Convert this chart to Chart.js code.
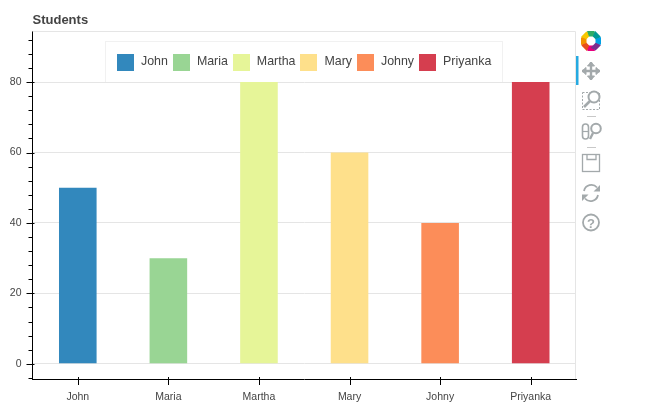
<!DOCTYPE html>
<html>
<head>
<meta charset="utf-8">
<script src="https://cdn.jsdelivr.net/npm/chart.js@4"></script>
<style>
  html, body { margin: 0; padding: 0; background: #fff; }
  #wrap { position: relative; width: 650px; height: 419px; overflow: hidden; }
  #legend {
    position: absolute; left: 105px; top: 41px; width: 398px; height: 41px; box-sizing: border-box;
    padding-left: 11px; display: flex; align-items: center;
    background: rgba(255,255,255,0.95); border: 1px solid rgba(229,229,229,0.55); border-bottom: 0;
    font: 12.4px "Liberation Sans", Arial, sans-serif; color: #444;
  }
  #legend .glyph { width: 17px; height: 17px; margin-right: 7px; flex: none; }
  #legend .name { margin-right: 5px; white-space: nowrap; position: relative; top: -1px; }
  #tools { position: absolute; left: 576px; top: 0; width: 40px; height: 260px; }
</style>
</head>
<body>
<div id="wrap">
  <canvas id="myChart" width="650" height="419"></canvas>
  <div id="legend"></div>
  <svg id="tools" width="40" height="260" viewBox="0 0 40 260">
    <rect x="0" y="56" width="2.5" height="29" fill="#26aae1"/>
    <g id="logo"></g>
    <g fill="none" stroke="#a3a9ab" stroke-width="2">
      <!-- pan -->
      <path d="M6 71h18M15 62v18" stroke-width="2.4"/>
      <path d="M15 62l-3.5 4h7zM15 80l-3.5-4h7zM6 71l4-3.5v7zM24 71l-4-3.5v7z" fill="#a3a9ab" stroke-width="1"/>
      <!-- box zoom -->
      <rect x="6.500" y="92.500" width="17" height="17" stroke-width="1" stroke-dasharray="2 1.500"/>
      <circle cx="18" cy="97" r="5.500" fill="#fff"/>
      <path d="M14 101l-6 6" stroke-width="2.600"/>
      <path d="M11 116.500h9M11 147.500h9" stroke="#c8c8c8" stroke-width="1"/>
      <!-- wheel zoom -->
      <rect x="6.500" y="124" width="6" height="15" rx="3" stroke-width="1.600"/>
      <path d="M7 131.500h5" stroke-width="1.200"/>
      <circle cx="20" cy="128.500" r="4.800"/>
      <path d="M17 133l-3 6" stroke-width="2.400"/>
      <!-- save -->
      <rect x="6.500" y="154.500" width="17" height="17" stroke-width="1.300"/>
      <path d="M11 154.500v5h9v-5" stroke-width="1.300"/>
      <!-- reset -->
      <path d="M8 191a7.500 7.500 0 0 1 13-3.500M22 195a7.500 7.500 0 0 1-13 3.500" stroke-width="1.800"/>
      <path d="M24 185v6.500h-6.500zM6 201v-6.500h6.500z" fill="#a3a9ab" stroke="none"/>
      <!-- help -->
      <circle cx="15" cy="222.500" r="8" stroke-width="1.800"/>
    </g>
    <text x="15" y="227.500" text-anchor="middle" font-family="Liberation Sans" font-weight="bold" font-size="13" fill="#a3a9ab">?</text>
  </svg>
</div>
<script>
var chartTitle = 'Students';
var categories = ['John', 'Maria', 'Martha', 'Mary', 'Johny', 'Priyanka'];
var students = [50, 30, 80, 60, 40, 80];
var barColors = ['#3288bd', '#99d594', '#e6f598', '#fee08b', '#fc8d59', '#d53e4f'];
var yTickLabels = [0, 20, 40, 60, 80];
var logoColors = ['#e6007e', '#e84e1b', '#f39200', '#f7c800', '#2fac66', '#009a93', '#00a0e3', '#7b2d8e'];

// legend is plain html, it sits over the plot like the original
var legendBox = document.getElementById('legend');
categories.forEach(function(name, i) {
  var glyph = document.createElement('span');
  glyph.className = 'glyph';
  glyph.style.background = barColors[i];
  var label = document.createElement('span');
  label.className = 'name';
  label.textContent = name;
  legendBox.appendChild(glyph);
  legendBox.appendChild(label);
});

// colour wheel at the top of the toolbar
var logo = document.getElementById('logo');
logoColors.forEach(function(c, i) {
  var petal = document.createElementNS('http://www.w3.org/2000/svg', 'path');
  petal.setAttribute('d', 'M-4 -10 L3.500 -10 L5 -4.500 L-2 -4.500 Z');
  petal.setAttribute('fill', c);
  petal.setAttribute('transform', 'translate(15 41) rotate(' + (i * 45 + 180) + ')');
  logo.appendChild(petal);
});

// frame and the outward tick marks
var frameAndTicks = {
  id: 'frameAndTicks',
  afterDatasetsDraw: function(chart) {
    var ctx = chart.ctx, area = chart.chartArea;
    var x = chart.scales.x, y = chart.scales.y;
    ctx.save();
    ctx.strokeStyle = '#e5e5e5';
    ctx.lineWidth = 1;
    ctx.beginPath();
    ctx.moveTo(area.left, area.top + 0.5);
    ctx.lineTo(area.right - 0.5, area.top + 0.5);
    ctx.lineTo(area.right - 0.5, area.bottom);
    ctx.stroke();
    ctx.strokeStyle = '#000';
    ctx.beginPath();
    y.ticks.forEach(function(t) {
      var py = Math.round(y.getPixelForValue(t.value)) + 0.5;
      var major = yTickLabels.indexOf(t.value) >= 0;
      ctx.moveTo(area.left - (major ? 6 : 4), py);
      ctx.lineTo(area.left + (major ? 2 : 0), py);
    });
    categories.forEach(function(c, i) {
      var px = Math.round(x.getPixelForValue(i)) + 0.5;
      ctx.moveTo(px, area.bottom - 2);
      ctx.lineTo(px, area.bottom + 6);
    });
    ctx.stroke();
    ctx.restore();
  }
};

var ctx = document.getElementById('myChart').getContext('2d');
var chart = new Chart(ctx, {
  type: 'bar',
  data: {
    labels: categories,
    datasets: [{
      data: students,
      backgroundColor: barColors,
      categoryPercentage: 1,
      barPercentage: 0.415
    }]
  },
  options: {
    responsive: false,
    animation: false,
    layout: { padding: { left: 0, right: 74, top: 0, bottom: 14 } },
    plugins: {
      legend: { display: false },
      tooltip: { enabled: false },
      title: {
        display: true,
        text: chartTitle,
        align: 'start',
        fullSize: false,
        color: '#444',
        font: { family: '"Liberation Sans"', size: 13, weight: 'bold' },
        padding: { top: 13, bottom: 2.4 }
      }
    },
    scales: {
      x: {
        grid: { display: false, drawTicks: false },
        border: { color: '#000', width: 1 },
        ticks: { color: '#444', font: { family: '"Liberation Sans"', size: 10.5 }, padding: 12, maxRotation: 0 },
        afterFit: function(s) { s.height = 26; }
      },
      y: {
        min: -4.3,
        max: 94.5,
        grid: {
          drawTicks: false,
          color: function(c) { return c.tick && yTickLabels.indexOf(c.tick.value) >= 0 ? '#e5e5e5' : 'transparent'; }
        },
        border: { color: '#000', width: 1 },
        ticks: {
          stepSize: 4,
          includeBounds: false,
          autoSkip: false,
          color: '#444',
          font: { family: '"Liberation Sans"', size: 10.5 },
          padding: 11,
          callback: function(v) { return yTickLabels.indexOf(v) >= 0 ? v : ''; }
        },
        afterFit: function(s) { s.width = 32.5; }
      }
    }
  },
  plugins: [frameAndTicks]
});
</script>
</body>
</html>
